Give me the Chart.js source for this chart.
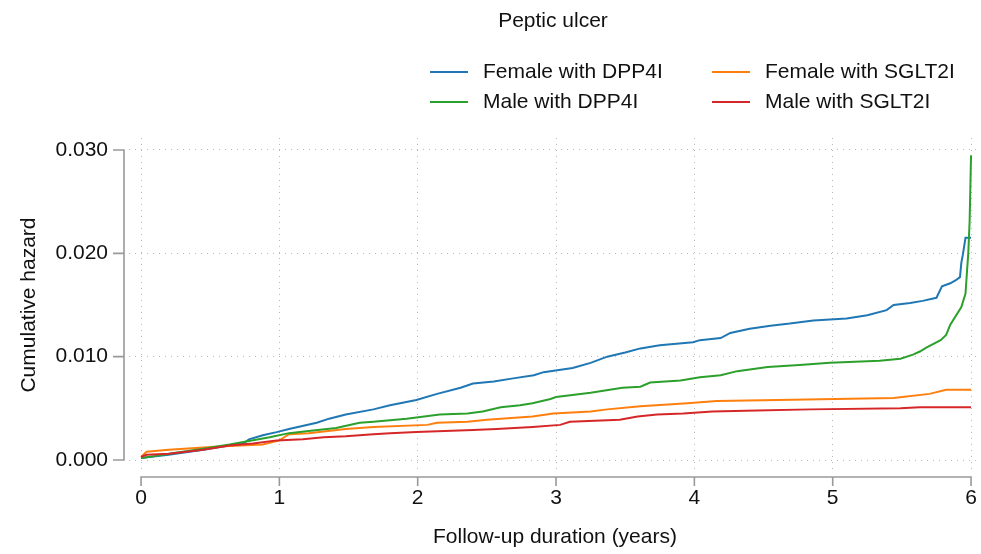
<!DOCTYPE html>
<html>
<head>
<meta charset="utf-8">
<title>Peptic ulcer</title>
<script src="https://cdn.jsdelivr.net/npm/chart.js@4.4.1/dist/chart.umd.min.js"></script>
<style>
body { margin: 0; background: #fff; }
#wrap { width: 981px; height: 554px; }
</style>
</head>
<body>
<div id="wrap"><canvas id="hazardChart" width="981" height="554"></canvas></div>
<script>
// data (years, cumulative hazard)
const chartTitle = "Peptic ulcer";
const seriesLabels = ["Female with DPP4I", "Female with SGLT2I", "Male with DPP4I", "Male with SGLT2I"];
const seriesColors = ["#1f77b4", "#ff7f0e", "#2ca02c", "#d62728"];

const xTicks = [0, 1, 2, 3, 4, 5, 6];
const yTicks = [0, 0.01, 0.02, 0.03];

const femaleDpp4iT = [0, 0.2, 0.45, 0.59, 0.74, 0.78, 0.88, 0.98, 1.07, 1.27, 1.36, 1.48, 1.68, 1.8, 1.99, 2.14, 2.31, 2.4, 2.55, 2.69, 2.84, 2.91, 3.12, 3.25, 3.37, 3.5, 3.61, 3.75, 3.99, 4.04, 4.19, 4.26, 4.4, 4.55, 4.69, 4.86, 4.98, 5.1, 5.25, 5.39, 5.44, 5.56, 5.65, 5.75, 5.79, 5.85, 5.89, 5.92, 5.93, 5.94, 5.96, 6.0];
const femaleDpp4iH = [0.0002, 0.0005, 0.001, 0.0013, 0.0016, 0.002, 0.0024, 0.0027, 0.003, 0.0036, 0.004, 0.0044, 0.0049, 0.0053, 0.0058, 0.0064, 0.007, 0.0074, 0.0076, 0.0079, 0.0082, 0.0085, 0.0089, 0.0094, 0.01, 0.0104, 0.0108, 0.0111, 0.0114, 0.0116, 0.0118, 0.0123, 0.0127, 0.013, 0.0132, 0.0135, 0.0136, 0.0137, 0.014, 0.0145, 0.015, 0.0152, 0.0154, 0.0157, 0.0168, 0.0171, 0.0174, 0.0177, 0.0191, 0.0198, 0.0215, 0.0215];

const femaleSglt2iT = [0, 0.04, 0.2, 0.45, 0.56, 0.88, 1.0, 1.07, 1.21, 1.48, 1.68, 2.07, 2.14, 2.36, 2.5, 2.83, 2.98, 3.25, 3.37, 3.61, 3.95, 4.16, 4.6, 5.44, 5.7, 5.82, 6.0];
const femaleSglt2iH = [0.0003, 0.0008, 0.001, 0.0012, 0.0013, 0.0015, 0.0019, 0.0025, 0.0026, 0.003, 0.0032, 0.0034, 0.0036, 0.0037, 0.0039, 0.0042, 0.0045, 0.0047, 0.0049, 0.0052, 0.0055, 0.0057, 0.0058, 0.006, 0.0064, 0.0068, 0.0068];

const maleDpp4iT = [0, 0.11, 0.25, 0.45, 0.64, 0.76, 0.93, 1.07, 1.21, 1.41, 1.58, 1.68, 1.92, 2.16, 2.36, 2.47, 2.6, 2.74, 2.83, 2.96, 3.0, 3.25, 3.48, 3.61, 3.68, 3.9, 4.04, 4.19, 4.31, 4.53, 4.76, 4.98, 5.34, 5.49, 5.58, 5.63, 5.68, 5.78, 5.82, 5.85, 5.93, 5.96, 5.97, 5.98, 5.99, 6.0];
const maleDpp4iH = [0.0002, 0.0004, 0.0007, 0.0011, 0.0015, 0.0018, 0.0022, 0.0026, 0.0028, 0.0031, 0.0036, 0.0037, 0.004, 0.0044, 0.0045, 0.0047, 0.0051, 0.0053, 0.0055, 0.0059, 0.0061, 0.0065, 0.007, 0.0071, 0.0075, 0.0077, 0.008, 0.0082, 0.0086, 0.009, 0.0092, 0.0094, 0.0096, 0.0098, 0.0102, 0.0105, 0.0109, 0.0116, 0.0121, 0.0131, 0.0148, 0.0161, 0.0181, 0.02, 0.0232, 0.0295];

const maleSglt2iT = [0, 0.04, 0.2, 0.45, 0.64, 0.81, 0.98, 1.17, 1.32, 1.48, 1.68, 1.8, 1.99, 2.4, 2.57, 2.83, 3.03, 3.1, 3.46, 3.59, 3.73, 3.92, 4.13, 4.45, 4.84, 5.49, 5.63, 6.0];
const maleSglt2iH = [0.0003, 0.0005, 0.0006, 0.001, 0.0014, 0.0016, 0.0019, 0.002, 0.0022, 0.0023, 0.0025, 0.0026, 0.0027, 0.0029, 0.003, 0.0032, 0.0034, 0.0037, 0.0039, 0.0042, 0.0044, 0.0045, 0.0047, 0.0048, 0.0049, 0.005, 0.0051, 0.0051];

const seriesT = [femaleDpp4iT, femaleSglt2iT, maleDpp4iT, maleSglt2iT];
const seriesH = [femaleDpp4iH, femaleSglt2iH, maleDpp4iH, maleSglt2iH];

const fontFamily = '"Liberation Sans", Arial, sans-serif';
const textColor = "#111";
const axisColor = "#999";
const gridColor = "#b8b8b8";

function toPoints(ts, hs) {
    var pts = [];
    for (var i = 0; i < ts.length; i++) {
        pts.push({ x: ts[i], y: hs[i] });
    }
    return pts;
}

var datasets = [];
for (var i = 0; i < seriesLabels.length; i++) {
    datasets.push({
        label: seriesLabels[i],
        data: toPoints(seriesT[i], seriesH[i]),
        borderColor: seriesColors[i],
        backgroundColor: seriesColors[i],
        order: seriesLabels.length - i // later series drawn on top
    });
}

// Stata style frame: detached axes, title and 2-column legend
const stataFrame = {
    id: "stataFrame",
    afterDraw(chart) {
        const ctx = chart.ctx;
        const xs = chart.scales.x;
        const ys = chart.scales.y;
        ctx.save();
        ctx.strokeStyle = axisColor;
        ctx.lineWidth = 1.6;

        // y axis with ticks to the left
        const axX = 124;
        ctx.beginPath();
        ctx.moveTo(axX, ys.getPixelForValue(yTicks[0]));
        ctx.lineTo(axX, ys.getPixelForValue(yTicks[yTicks.length - 1]));
        yTicks.forEach(function (v) {
            const p = ys.getPixelForValue(v);
            ctx.moveTo(axX + 0.8, p);
            ctx.lineTo(axX - 11, p);
        });
        ctx.stroke();

        // x axis with ticks below
        const axY = 477;
        ctx.beginPath();
        ctx.moveTo(xs.getPixelForValue(xTicks[0]), axY);
        ctx.lineTo(xs.getPixelForValue(xTicks[xTicks.length - 1]), axY);
        xTicks.forEach(function (v) {
            const p = xs.getPixelForValue(v);
            ctx.moveTo(p, axY - 0.8);
            ctx.lineTo(p, axY + 9);
        });
        ctx.stroke();

        // title
        ctx.fillStyle = textColor;
        ctx.font = "21px " + fontFamily;
        ctx.textAlign = "center";
        ctx.textBaseline = "middle";
        ctx.fillText(chartTitle, 553, 21);

        // legend, 2 columns filled row by row
        const colX = [430, 712];
        const rowY = [72, 102];
        ctx.textAlign = "left";
        chart.data.datasets.forEach(function (ds, i) {
            const x = colX[i % 2];
            const y = rowY[Math.floor(i / 2)];
            ctx.strokeStyle = ds.borderColor;
            ctx.lineWidth = 2;
            ctx.beginPath();
            ctx.moveTo(x, y);
            ctx.lineTo(x + 38, y);
            ctx.stroke();
            ctx.fillText(ds.label, x + 53, y);
        });
        ctx.restore();
    }
};

new Chart(document.getElementById("hazardChart"), {
    type: "line",
    data: { datasets: datasets },
    options: {
        responsive: false,
        devicePixelRatio: 1,
        animation: false,
        layout: { padding: { top: 138, right: 0, bottom: 0, left: 0 } },
        elements: {
            point: { radius: 0 },
            line: { borderWidth: 2, stepped: false, tension: 0 }
        },
        plugins: {
            legend: { display: false },
            title: { display: false },
            tooltip: { enabled: false }
        },
        scales: {
            x: {
                type: "linear",
                min: -0.087,
                max: 6.072,
                afterBuildTicks: function (s) { s.ticks = xTicks.map(function (v) { return { value: v }; }); },
                afterFit: function (s) { s.height = 82; s.paddingLeft = 0; s.paddingRight = 0; },
                grid: { color: gridColor, lineWidth: 1, drawTicks: false },
                border: { display: false, dash: [1, 5] },
                ticks: {
                    autoSkip: false,
                    maxRotation: 0,
                    padding: 14,
                    color: textColor,
                    font: { family: fontFamily, size: 21 }
                },
                title: {
                    display: true,
                    text: "Follow-up duration (years)",
                    color: textColor,
                    font: { family: fontFamily, size: 21 },
                    padding: { top: 0, bottom: 4 }
                }
            },
            y: {
                type: "linear",
                min: -0.00116,
                max: 0.03116,
                afterBuildTicks: function (s) { s.ticks = yTicks.map(function (v) { return { value: v }; }); },
                afterFit: function (s) { s.width = 129; s.paddingTop = 0; s.paddingBottom = 0; },
                grid: { color: gridColor, lineWidth: 1, drawTicks: false },
                border: { display: false, dash: [1, 5] },
                ticks: {
                    autoSkip: false,
                    padding: 21,
                    color: textColor,
                    font: { family: fontFamily, size: 21 },
                    callback: function (v) { return v.toFixed(3); }
                },
                title: {
                    display: true,
                    text: "Cumulative hazard",
                    color: textColor,
                    font: { family: fontFamily, size: 21 },
                    padding: { top: 17, bottom: 0 }
                }
            }
        }
    },
    plugins: [stataFrame]
});
</script>
</body>
</html>
